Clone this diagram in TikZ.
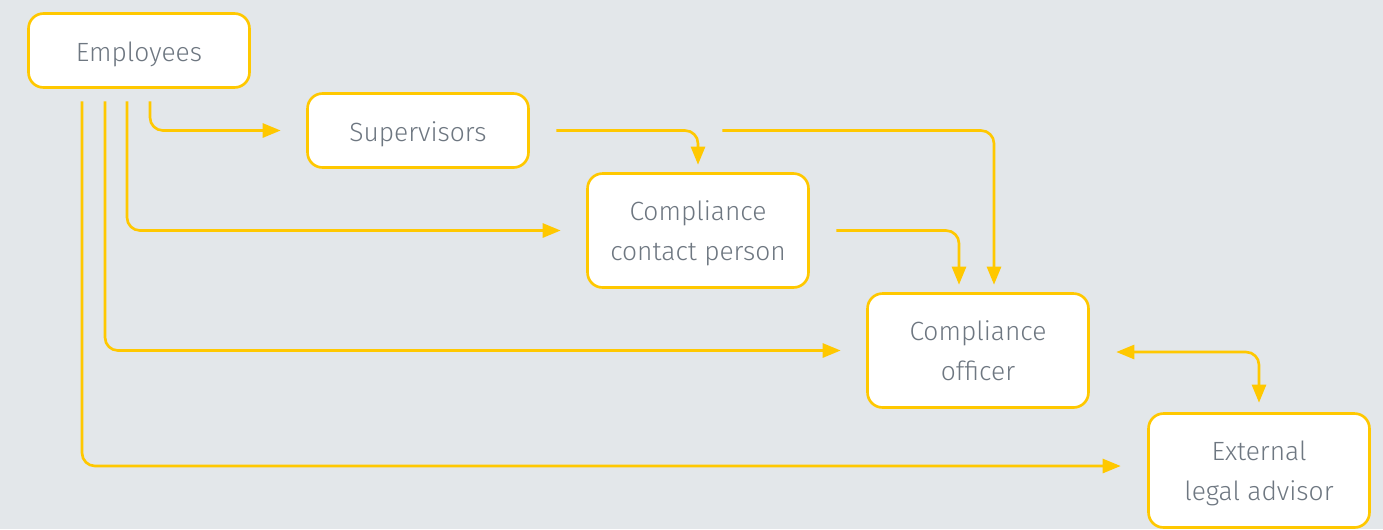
\documentclass[tikz,border=0pt]{standalone}
\usepackage{fontspec}
\setmainfont{Fira Sans Light}
\usetikzlibrary{arrows.meta}
\definecolor{bggray}{HTML}{E3E7EA}
\definecolor{signal}{HTML}{FFC800}
\definecolor{txtgray}{HTML}{6E7781}

\begin{document}
\begin{tikzpicture}[x=0.02cm, y=-0.02cm,
  every node/.style={font=\fontsize{15}{22.7}\selectfont, text=txtgray},
  box/.style={draw=signal, line width=1.5pt, fill=white, rounded corners=0.3cm,
    minimum width=4.42cm, minimum height=1.48cm, align=center, inner sep=0pt,
    text height=12pt, text depth=0pt},
  tallbox/.style={box, minimum height=2.28cm, text height=34.5pt},
  flow/.style={draw=signal, line width=1.5pt, rounded corners=0.26cm,
    -{Triangle[length=0.36cm,width=0.28cm]}}]
% canvas
\path[use as bounding box, fill=bggray] (0,0) rectangle (1383,529);
% roles
\node[box] (emp) at (139,50.5) {Employees};
\node[box] (sup) at (418,130.5) {Supervisors};
\node[tallbox] (ccp) at (698,230.5) {Compliance\\contact person};
\node[tallbox] (co) at (978,350.5) {Compliance\\officer};
\node[tallbox] (ela) at (1259,470.5) {External\\legal advisor};
% reporting lines from employees
\draw[flow, shorten <=0.25cm, shorten >=0.51cm] ([xshift=0.22cm]emp.south) |- (sup.west);
\draw[flow, shorten <=0.25cm, shorten >=0.51cm] ([xshift=-0.24cm]emp.south) |- (ccp.west);
\draw[flow, shorten <=0.25cm, shorten >=0.51cm] ([xshift=-0.68cm]emp.south) |- (co.west);
\draw[flow, shorten <=0.25cm, shorten >=0.53cm] ([xshift=-1.14cm]emp.south) |- ([yshift=0.09cm]ela.west);
% escalation
\draw[flow, shorten <=0.53cm, shorten >=0.15cm] (sup.east) -| (ccp.north);
\draw[flow, shorten <=3.85cm, shorten >=0.15cm] (sup.east) -| ([xshift=0.32cm]co.north);
\draw[flow, shorten <=0.53cm, shorten >=0.15cm] (ccp.east) -| ([xshift=-0.38cm]co.north);
\draw[flow, {Triangle[length=0.36cm,width=0.28cm]}-{Triangle[length=0.36cm,width=0.28cm]},
  shorten <=0.53cm, shorten >=0.19cm] ([yshift=-0.03cm]co.east) -| (ela.north);
\end{tikzpicture}
\end{document}
